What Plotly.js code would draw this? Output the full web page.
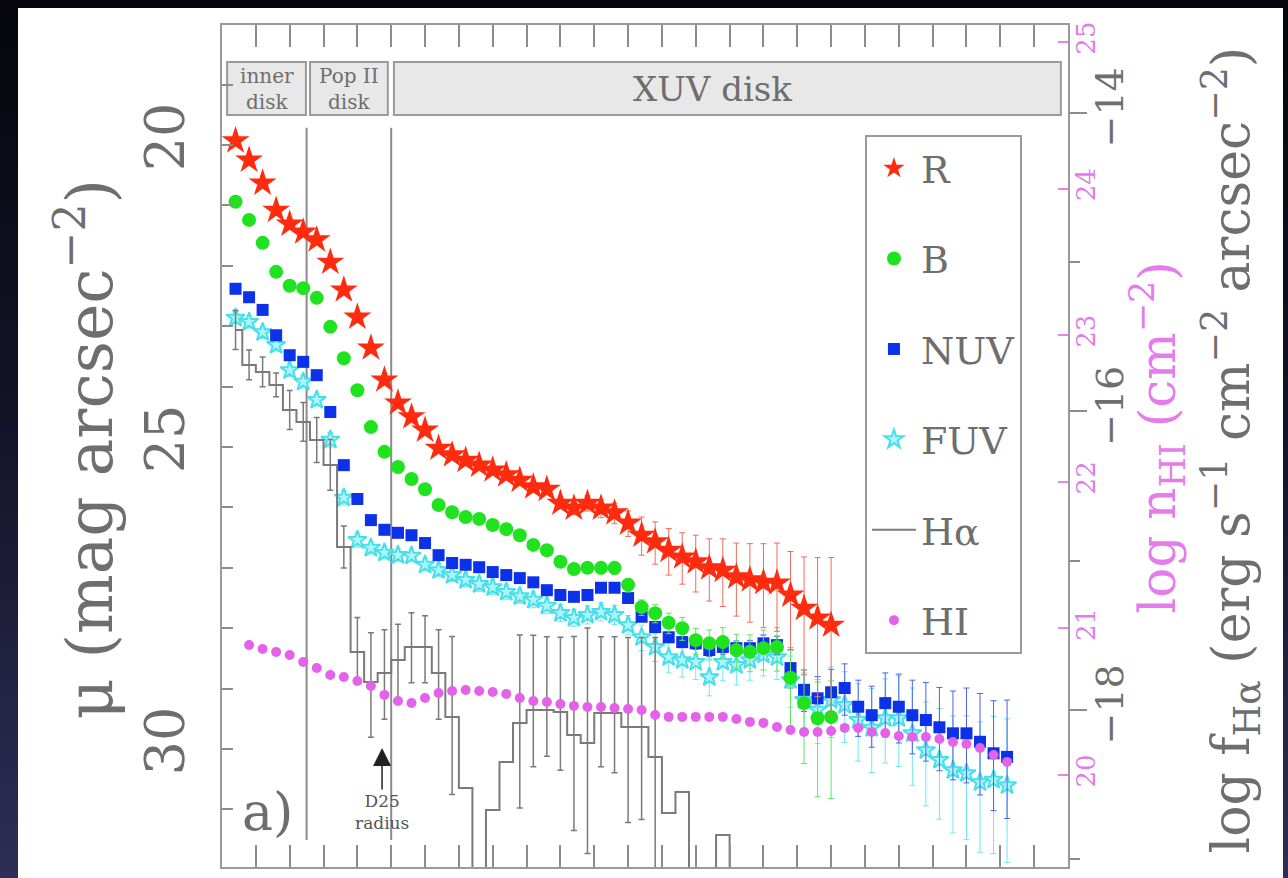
<!DOCTYPE html>
<html><head><meta charset="utf-8">
<script src="https://cdn.plot.ly/plotly-3.0.1.min.js"></script>
<style>
html,body{margin:0;padding:0;width:1288px;height:878px;overflow:hidden;background:linear-gradient(to bottom,#06060c 0%,#14142a 50%,#2e2e56 100%);}
#chart{position:absolute;left:18px;top:8px;width:1265px;height:870px;background:#fff;}
</style></head><body><div id="chart"></div><script>
// radius grid (arbitrary units of the bottom axis, 0..25)
const radius = [0.4,0.8,1.2,1.6,2.0,2.4,2.8,3.2,3.6,4.0,4.4,4.8,5.2,5.6,6.0,6.4,6.8,7.2,7.6,8.0,8.4,8.8,9.2,9.6,10.0,10.4,10.8,11.2,11.6,12.0,12.4,12.8,13.2,13.6,14.0,14.4,14.8,15.2,15.6,16.0,16.4,16.8,17.2,17.6,18.0,18.4,18.8,19.2,19.6,20.0,20.4,20.8,21.2,21.6,22.0,22.4,22.8,23.2];

// R band surface brightness (mag arcsec^-2)
const rMu = [19.93,20.25,20.63,21.08,21.31,21.44,21.57,21.94,22.40,22.85,23.36,23.89,24.27,24.50,24.72,25.02,25.13,25.22,25.30,25.38,25.46,25.55,25.66,25.70,25.93,26.01,25.93,26.01,26.09,26.26,26.46,26.57,26.71,26.82,26.90,27.00,27.04,27.15,27.20,27.24,27.25,27.45,27.67,27.83,27.95];
const rErrUp = [0,0,0,0,0,0,0,0,0,0,0,0,0,0,0,0,0,0,0,0,0.03,0.04,0.05,0.06,0.08,0.10,0.12,0.14,0.16,0.20,0.30,0.33,0.36,0.40,0.44,0.48,0.52,0.56,0.60,0.64,0.66,0.72,0.85,1.00,1.12];
const rErrDn = [0,0,0,0,0,0,0,0,0,0,0,0,0,0,0,0,0,0,0,0,0.03,0.04,0.05,0.07,0.09,0.11,0.13,0.16,0.18,0.22,0.33,0.37,0.41,0.45,0.50,0.55,0.60,0.65,0.70,0.75,0.80,0.90,1.10,1.30,1.50];

// B band
const bMu = [20.94,21.24,21.62,22.10,22.33,22.37,22.53,23.01,23.53,24.06,24.67,25.08,25.33,25.53,25.70,25.96,26.08,26.16,26.19,26.29,26.36,26.46,26.62,26.71,26.90,27.02,27.00,27.00,27.00,27.28,27.65,27.75,27.91,28.00,28.20,28.25,28.23,28.36,28.39,28.33,28.31,28.82,29.24,29.49,29.47];
const bErrUp = [0,0,0,0,0,0,0,0,0,0,0,0,0,0,0,0,0,0,0,0,0,0,0,0,0,0,0,0.08,0.09,0.10,0.12,0.14,0.16,0.18,0.20,0.22,0.24,0.26,0.28,0.30,0.32,0.50,0.55,0.60,0.60];
const bErrDn = [0,0,0,0,0,0,0,0,0,0,0,0,0,0,0,0,0,0,0,0,0,0,0,0,0,0,0,0.10,0.11,0.12,0.14,0.16,0.18,0.20,0.23,0.26,0.28,0.30,0.33,0.36,0.40,0.90,1.00,1.30,1.35];

// NUV
const nuvMu = [22.38,22.52,22.73,23.15,23.48,23.59,23.81,24.42,25.30,25.86,26.21,26.37,26.42,26.46,26.59,26.79,26.92,26.95,26.99,27.07,27.12,27.17,27.24,27.37,27.45,27.48,27.45,27.33,27.33,27.50,27.81,27.98,28.15,28.23,28.25,28.36,28.31,28.33,28.33,28.25,28.28,28.66,29.02,29.16,29.06,28.99,29.30,29.44,29.24,29.30,29.44,29.52,29.64,29.74,29.74,29.88,30.07,30.13];
const nuvErrUp = [0,0,0,0,0,0,0,0,0,0,0,0,0,0,0,0,0,0,0,0,0,0,0,0,0,0,0,0,0,0.04,0.05,0.06,0.07,0.08,0.09,0.10,0.11,0.12,0.13,0.14,0.15,0.30,0.33,0.36,0.38,0.40,0.44,0.48,0.50,0.54,0.58,0.62,0.66,0.70,0.75,0.80,0.87,0.94];
const nuvErrDn = [0,0,0,0,0,0,0,0,0,0,0,0,0,0,0,0,0,0,0,0,0,0,0,0,0,0,0,0,0,0.05,0.06,0.07,0.08,0.09,0.10,0.11,0.12,0.13,0.14,0.15,0.16,0.33,0.36,0.40,0.42,0.45,0.49,0.53,0.56,0.60,0.64,0.68,0.72,0.77,0.82,0.88,0.95,1.02];

// FUV
const fuvMu = [22.86,22.93,23.10,23.31,23.73,23.92,24.22,24.88,25.84,26.54,26.67,26.75,26.79,26.80,26.95,27.04,27.12,27.20,27.27,27.32,27.40,27.47,27.53,27.63,27.75,27.83,27.78,27.73,27.78,27.95,28.15,28.31,28.48,28.53,28.56,28.81,28.56,28.61,28.53,28.44,28.48,28.86,29.19,29.35,29.19,29.27,29.52,29.65,29.49,29.49,29.74,30.02,30.18,30.35,30.40,30.55,30.51,30.60];
const fuvErrUp = [0.10,0.10,0.10,0.10,0.10,0.10,0.10,0.12,0.12,0.12,0.10,0.10,0.10,0.10,0.10,0.11,0.11,0.11,0.12,0.12,0.12,0.12,0.13,0.13,0.14,0.14,0.15,0.15,0.16,0.16,0.20,0.22,0.24,0.25,0.26,0.28,0.28,0.30,0.30,0.32,0.34,0.40,0.45,0.50,0.55,0.55,0.60,0.65,0.65,0.70,0.75,0.80,0.85,0.90,0.95,1.00,1.05,1.10];
const fuvErrDn = [0.10,0.10,0.10,0.10,0.10,0.10,0.10,0.12,0.12,0.12,0.10,0.10,0.10,0.10,0.10,0.11,0.11,0.11,0.12,0.12,0.12,0.12,0.13,0.13,0.14,0.14,0.15,0.15,0.16,0.16,0.22,0.24,0.26,0.28,0.29,0.31,0.31,0.33,0.33,0.35,0.37,0.45,0.50,0.56,0.62,0.62,0.68,0.74,0.74,0.80,0.86,0.92,0.98,1.04,1.10,1.16,1.22,1.28];

// HI column density, log n_HI (cm^-2), starts at second radius
const hiLogN = [20.887,20.859,20.839,20.818,20.771,20.730,20.682,20.668,20.641,20.607,20.546,20.505,20.491,20.525,20.559,20.573,20.580,20.573,20.566,20.553,20.525,20.505,20.498,20.484,20.471,20.464,20.464,20.457,20.450,20.443,20.409,20.396,20.396,20.396,20.396,20.396,20.382,20.362,20.355,20.327,20.307,20.293,20.293,20.300,20.321,20.321,20.293,20.286,20.266,20.259,20.259,20.245,20.225,20.211,20.184,20.136,20.089];

// H-alpha, log f (erg s^-1 cm^-2 arcsec^-2), step histogram
const haLogF = [-15.454,-15.688,-15.735,-15.822,-15.990,-16.070,-16.191,-16.358,-16.908,-17.611,-17.812,-17.752,-17.665,-17.578,-17.578,-17.752,-18.047,-18.523,-19.6,-18.670,-18.348,-18.087,-18.000,-18.000,-18.013,-18.168,-18.221,-18.020,-18.020,-18.114,-18.114,-18.315,-18.690,-18.549,-19.6,-19.6,-18.838,-19.6,-19.6,-19.6];
const haErrUp = [0.13,0.10,0.10,0.08,0.13,0.13,0.15,0.17,0.14,0.23,0.33,0.29,0.24,0.23,0.21,0.29,0.54,0,0,0,0,0.59,0.50,0.49,0.50,0.66,0.77,0.51,0.51,0.60,0.60,0.80,0,0,0,0,0,0,0,0];
const haErrDn = [0.13,0.10,0.10,0.08,0.13,0.13,0.15,0.17,0.14,0.21,0.37,0.31,0.27,0.24,0.24,0.31,0.52,0,0,0,0,0.57,0.38,0.31,0.39,0.64,0.74,0.36,0.40,0.64,0.62,0.80,0,0,0,0,0,0,0,0];

const seriesNames = ['R','B','NUV','FUV','Hα','HI'];
const regionLabels = ['inner<br>disk','Pop II<br>disk','XUV disk'];
const regionEdges = [[0.15,2.48],[2.6,4.9],[5.08,24.79]];
const regionLines = [2.5, 5.0];

const TXT = '#6e6e6e';
const FAM = 'DejaVu Serif';
const colR = '#ff2b0e', colB = '#1fe31f', colNUV = '#0b32e8', colFUV = '#aef4f8', colFUVedge = '#45e0ec', colHI = '#e462ea', colHa = '#7a7a7a';

function errTrace(x, y, up, dn, color, axis, thick) {
  return {x: x, y: y, yaxis: axis, mode: 'markers', showlegend: false, hoverinfo: 'skip',
    marker: {size: 1, color: 'rgba(0,0,0,0)'},
    error_y: {type: 'data', symmetric: false, array: up, arrayminus: dn, color: color, thickness: thick, width: 3}};
}

const xR = radius.slice(0, rMu.length);
const xB = radius.slice(0, bMu.length);
const xHI = radius.slice(1, 1 + hiLogN.length);
const xHa = radius.slice(0, haLogF.length);

const traces = [
  {x: xHa, y: haLogF, yaxis: 'y2', mode: 'lines', name: seriesNames[4], legendgroup: 'g5', legendrank: 5,
    line: {color: colHa, width: 2, shape: 'hvh'}},
  errTrace(xHa, haLogF, haErrUp, haErrDn, '#7a7a7a', 'y2', 1.5),
  {x: xHI, y: hiLogN, yaxis: 'y3', mode: 'markers', name: seriesNames[5], legendgroup: 'g6', legendrank: 6,
    marker: {symbol: 'circle', size: 10, color: colHI}},
  errTrace(radius, fuvMu, fuvErrDn, fuvErrUp, '#6ee8f2', 'y', 1),
  {x: radius, y: fuvMu, yaxis: 'y', mode: 'markers', name: seriesNames[3], legendgroup: 'g4', legendrank: 4,
    marker: {symbol: 'star', size: 14, color: colFUV, line: {width: 2, color: colFUVedge}}},
  errTrace(radius, nuvMu, nuvErrDn, nuvErrUp, '#4a62f0', 'y', 1),
  {x: radius, y: nuvMu, yaxis: 'y', mode: 'markers', name: seriesNames[2], legendgroup: 'g3', legendrank: 3,
    marker: {symbol: 'square', size: 12, color: colNUV}},
  errTrace(xB, bMu, bErrDn, bErrUp, '#5ee85e', 'y', 1),
  {x: xB, y: bMu, yaxis: 'y', mode: 'markers', name: seriesNames[1], legendgroup: 'g2', legendrank: 2,
    marker: {symbol: 'circle', size: 14, color: colB}},
  errTrace(xR, rMu, rErrDn, rErrUp, '#f56a5a', 'y', 1),
  {x: xR, y: rMu, yaxis: 'y', mode: 'markers', name: seriesNames[0], legendgroup: 'g1', legendrank: 1,
    marker: {symbol: 'star', size: 21, color: colR}}
];

const shapes = [];
regionEdges.forEach(function(e) {
  shapes.push({type: 'rect', xref: 'x', yref: 'paper', x0: e[0], x1: e[1], y0: 0.893, y1: 0.956,
    fillcolor: '#e8e8e8', line: {color: '#9a9a9a', width: 2}, layer: 'below'});
});
regionLines.forEach(function(v) {
  shapes.push({type: 'line', xref: 'x', yref: 'paper', x0: v, x1: v, y0: 0.032, y1: 0.878,
    line: {color: '#8a8a8a', width: 2}, layer: 'below'});
});

const annotations = [
  {xref: 'paper', yref: 'paper', x: -0.162, y: 0.497, xanchor: 'center', yanchor: 'middle',
    text: 'μ (mag arcsec<sup>−2</sup>)', textangle: -90,
    showarrow: false, font: {family: FAM, size: 63, color: TXT}},
  {xref: 'paper', yref: 'paper', x: 1.106, y: 0.5107, xanchor: 'center', yanchor: 'middle',
    text: 'log n<sub>HI</sub> (cm<sup>−2</sup>)', textangle: -90,
    showarrow: false, font: {family: FAM, size: 50, color: '#e57ceb'}},
  {xref: 'paper', yref: 'paper', x: 1.193, y: 0.495, xanchor: 'center', yanchor: 'middle',
    text: 'log f<sub>Hα</sub> (erg s<sup>−1</sup> cm<sup>−2</sup> arcsec<sup>−2</sup>)', textangle: -90,
    showarrow: false, font: {family: FAM, size: 52, color: TXT}},
  {xref: 'x', yref: 'paper', x: (regionEdges[0][0] + regionEdges[0][1]) / 2, y: 0.924, yanchor: 'middle',
    text: regionLabels[0], showarrow: false, font: {family: FAM, size: 20, color: TXT}},
  {xref: 'x', yref: 'paper', x: (regionEdges[1][0] + regionEdges[1][1]) / 2, y: 0.924, yanchor: 'middle',
    text: regionLabels[1], showarrow: false, font: {family: FAM, size: 20, color: TXT}},
  {xref: 'x', yref: 'paper', x: 14.5, y: 0.924, yanchor: 'middle', text: regionLabels[2], showarrow: false,
    font: {family: FAM, size: 34, color: TXT}},
  {xref: 'x', yref: 'paper', x: 1.33, y: 0.065, yanchor: 'middle', text: 'a)', showarrow: false,
    font: {family: FAM, size: 52, color: TXT}},
  {xref: 'x', yref: 'paper', x: 4.73, y: 0.1413, text: 'D25<br>radius', showarrow: true, arrowhead: 2, arrowsize: 2.4,
    arrowwidth: 1.5, arrowcolor: '#222', ax: 0, ay: 64, font: {family: FAM, size: 17, color: '#555'}}
];

const tickCol = '#8c8c8c';
const layout = {
  width: 1265, height: 870,
  margin: {l: 204, r: 215, t: 17, b: 11},
  paper_bgcolor: '#ffffff', plot_bgcolor: '#ffffff',
  font: {family: FAM, color: TXT},
  showlegend: true,
  xaxis: {range: [0, 25], showticklabels: false, ticks: 'inside', ticklen: 22, tickwidth: 2, tickcolor: tickCol,
    dtick: 5, tick0: 0, minor: {dtick: 1, ticks: 'inside', ticklen: 11, tickwidth: 2, tickcolor: tickCol},
    showline: true, linecolor: '#9a9a9a', linewidth: 2, mirror: 'allticks', showgrid: false, zeroline: false},
  yaxis: {range: [31.953, 18.013], ticks: 'inside', ticklen: 11, tickwidth: 2, tickcolor: tickCol,
    dtick: 5, tick0: 20, minor: {dtick: 1, ticks: 'inside', ticklen: 11, tickwidth: 2, tickcolor: tickCol},
    tickangle: -90, tickfont: {family: FAM, size: 54, color: TXT}, ticklabelstandoff: 14,
    showline: true, linecolor: '#9a9a9a', linewidth: 2, mirror: true, showgrid: false, zeroline: false},
  yaxis2: {overlaying: 'y', side: 'right', anchor: 'x', range: [-19.052, -13.4104], ticks: 'outside', ticklen: 18,
    tickwidth: 2, tickcolor: tickCol, dtick: 2, tick0: -14,
    minor: {dtick: 1, ticks: 'outside', ticklen: 11, tickwidth: 2, tickcolor: tickCol},
    tickangle: -90, tickfont: {family: FAM, size: 38, color: TXT}, ticklabelstandoff: -10,
    showline: false, showgrid: false, zeroline: false},
  yaxis3: {overlaying: 'y', side: 'right', anchor: 'x', range: [19.372, 25.116], ticks: 'inside', ticklen: 10,
    tickwidth: 2, tickcolor: '#e884ee', dtick: 1, tick0: 20, tickangle: -90,
    tickfont: {family: FAM, size: 26, color: '#e37ae9'}, showline: false, showgrid: false, zeroline: false},
  legend: {x: 0.760, y: 0.8694, xanchor: 'left', yanchor: 'top', bgcolor: '#ffffff', bordercolor: '#9a9a9a',
    borderwidth: 2, font: {family: FAM, size: 38, color: TXT}, traceorder: 'grouped', tracegroupgap: 38,
    itemsizing: 'trace', itemwidth: 44},
  shapes: shapes,
  annotations: annotations
};

Plotly.newPlot('chart', traces, layout, {displayModeBar: false, staticPlot: true});
</script></body></html>
